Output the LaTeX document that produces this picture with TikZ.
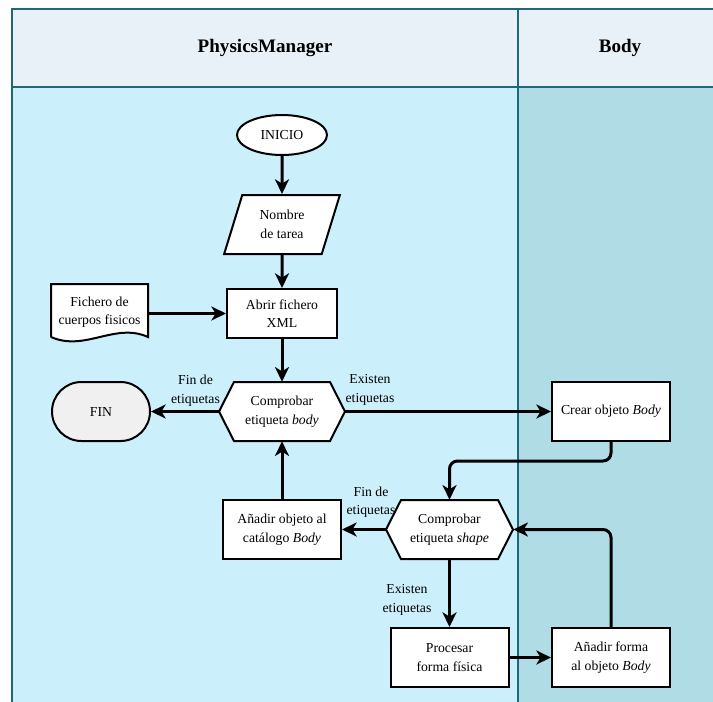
\documentclass[tikz,border=0pt]{standalone}
\usepackage{fontspec}
\setmainfont{Liberation Serif}
\usetikzlibrary{shapes.geometric,shapes.misc,arrows.meta,calc}
\definecolor{hdr}{HTML}{E8F0F8}
\definecolor{laneA}{HTML}{CCEFFC}
\definecolor{laneB}{HTML}{B0DCE6}
\definecolor{laneline}{HTML}{1F6878}
\definecolor{finfill}{HTML}{F0F0F0}
\newcommand\hexnode[5]{% name, x, y, width, text
  \filldraw[nodeline,fill=white] (#2-#4/2,#3) -- (#2-#4/2+15,#3-29.5) -- (#2+#4/2-15,#3-29.5) -- (#2+#4/2,#3) -- (#2+#4/2-15,#3+29.5) -- (#2-#4/2+15,#3+29.5) -- cycle;
  \node[hexbox, minimum width=#4*0.75pt] (#1) at (#2,#3) {#5};}
\begin{document}
\begin{tikzpicture}[x=0.75pt,y=-0.75pt,
  every node/.style={font=\fontsize{10.3}{13.9}\selectfont, align=center, inner sep=0pt},
  box/.style={draw=black, fill=white, line width=1.5pt, minimum width=88.5pt, minimum height=44.25pt},
  nodeline/.style={draw=black, line width=1.5pt},
  hexbox/.style={minimum height=44.25pt},
  arr/.style={line width=2.25pt, -{Stealth[length=11pt,width=10.5pt,inset=3.2pt]}, rounded corners=6pt},
  hdrtext/.style={font=\bfseries\fontsize{14.3}{17}\selectfont},
  lanestroke/.style={draw=laneline, line width=1.5pt}
]
\useasboundingbox (0,0) rectangle (713,701);
\clip (0,0) rectangle (713,701);
% lanes
\fill[laneA] (12,87) rectangle (518,710);
\fill[laneB] (518,87) rectangle (725,710);
\fill[hdr] (12,9) rectangle (725,87);
\draw[lanestroke] (725,9) -- (12,9) -- (12,710);
\draw[lanestroke] (12,87) -- (725,87);
\draw[lanestroke] (518,9) -- (518,710);
\node[hdrtext] (hpm) at (265,48) {PhysicsManager};
\node[hdrtext] (hbody) at (620,48) {Body};
% nodes
\node[ellipse, draw=black, fill=white, line width=1.5pt, minimum width=90*0.75pt, minimum height=40*0.75pt] (inicio) at (282,135) {INICIO};
\node[trapezium, trapezium left angle=70, trapezium right angle=110, trapezium stretches=true, draw=black, fill=white, line width=1.5pt, minimum width=116*0.75pt, minimum height=59*0.75pt] (nombre) at (282,224.5) {Nombre\\de tarea};
\filldraw[nodeline, fill=white] (51,337) -- (51,284) -- (148,284) -- (148,337) .. controls (115,322) and (85,352) .. (51,337);
\node[minimum width=97*0.75pt, minimum height=56*0.75pt] (fich) at (99.5,312) {Fichero de\\cuerpos fisicos};
\node[box, minimum width=110*0.75pt, minimum height=49*0.75pt] (abrir) at (282,313.5) {Abrir fichero\\XML};
\hexnode{cbody}{282}{411.5}{126}{Comprobar\\etiqueta \textit{body}}
\node[rounded rectangle, draw=black, fill=finfill, line width=1.5pt, minimum width=98*0.75pt, minimum height=59*0.75pt] (fin) at (101,411.5) {FIN};
\node[box] (crear) at (611,411.5) {Crear objeto \textit{Body}};
\hexnode{cshape}{449.5}{529.5}{127}{Comprobar\\etiqueta \textit{shape}}
\node[box] (anobj) at (282,529.5) {Añadir objeto al\\catálogo \textit{Body}};
\node[box] (proc) at (449.5,657.5) {Procesar\\forma física};
\node[box] (anforma) at (611,657.5) {Añadir forma\\al objeto \textit{Body}};
% labels
\node (l1) at (195.5,390.5) {Fin de\\etiquetas};
\node (l2) at (370,390) {Existen\\etiquetas};
\node (l3) at (371,502) {Fin de\\etiquetas};
\node (l4) at (407,600) {Existen\\etiquetas};
% connectors
\draw[arr] (inicio.south) -- (nombre.north);
\draw[arr] (nombre.south) -- (abrir.north);
\draw[arr] (fich.east |- abrir.west) -- (abrir.west);
\draw[arr] (abrir.south) -- (cbody.north);
\draw[arr] (cbody.west) -- (fin.east);
\draw[arr] (cbody.east) -- (crear.west);
\draw[arr] (crear.south) -- ++(0,19) -| (cshape.north);
\draw[arr] (cshape.west) -- (anobj.east);
\draw[arr] (anobj.north) -- (cbody.south);
\draw[arr] (cshape.south) -- (proc.north);
\draw[arr] (proc.east) -- (anforma.west);
\draw[arr] (anforma.north) |- (cshape.east);
\end{tikzpicture}
\end{document}
